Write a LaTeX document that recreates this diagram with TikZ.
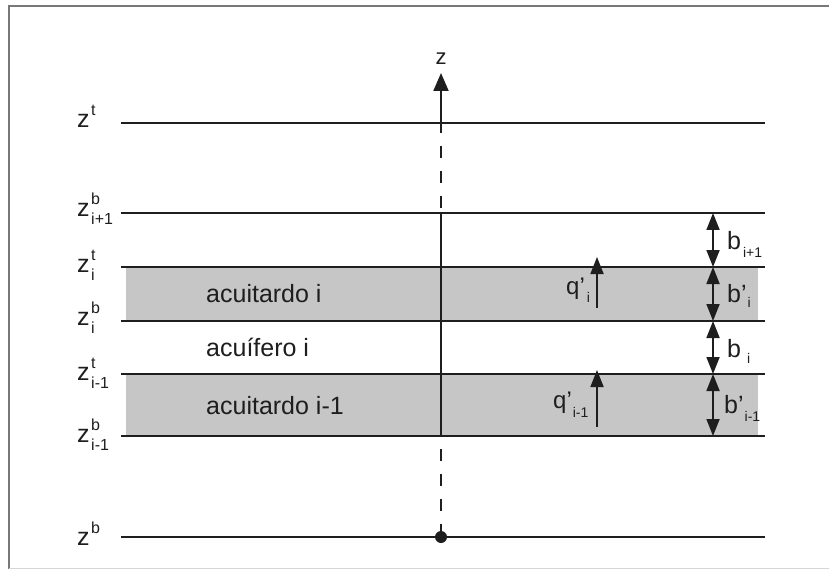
\documentclass[tikz,border=0pt]{standalone}
\usepackage{fontspec}
\setmainfont{Liberation Sans}
\usetikzlibrary{arrows.meta}
\definecolor{ink}{RGB}{30,30,30}
\definecolor{layergray}{RGB}{198,198,198}
\definecolor{framegray}{RGB}{120,120,120}
\newcommand{\subf}{\fontsize{16}{16}\selectfont}
\newcommand{\subs}{\fontsize{14}{14}\selectfont}
\newcommand{\zlab}[2]{z\kern1.5pt\rlap{\raisebox{12pt}{\subf #1}}\raisebox{-8pt}{\subf #2}}
\begin{document}
\begin{tikzpicture}[x=1pt,y=-1pt,
  layerline/.style={line width=2pt, draw=ink},
  axisline/.style={line width=2pt, draw=ink},
  dimarrow/.style={line width=1.8pt, draw=ink, {Triangle[length=17pt,width=13pt]}-{Triangle[length=17pt,width=13pt]}},
  flowarrow/.style={line width=1.8pt, draw=ink, -{Triangle[length=17pt,width=13pt]}},
  zlabel/.style={inner sep=0pt, anchor=base west, text=ink, font=\fontsize{25}{25}\selectfont},
  laylabel/.style={inner sep=0pt, anchor=base west, text=ink, font=\fontsize{25}{25}\selectfont},
  rlabel/.style={inner sep=0pt, anchor=base west, text=ink, font=\fontsize{25}{25}\selectfont},
  qlabel/.style={inner sep=0pt, anchor=base west, text=ink, font=\fontsize{24}{24}\selectfont}]
\useasboundingbox (0,0) rectangle (829,569);
% frame
\draw[framegray, line width=1.5pt] (9,569) -- (9,6) -- (829,6);
\draw[framegray!30, line width=1pt] (9,568) -- (829,568);
% shaded layers
\fill[layergray] (126,267) rectangle (758,321);
\fill[layergray] (126,374) rectangle (758,436);
% horizontal lines
\foreach \n/\y in {zt/123, zbip/213, zti/267, zbi/321, ztim/374, zbim/436, zb/537}{
  \coordinate (\n-l) at (121,\y);
  \coordinate (\n-r) at (765,\y);
  \draw[layerline] (\n-l) -- (\n-r);
}
% vertical axis
\coordinate (axtip) at (441,73);
\coordinate (axa) at (441,133);
\coordinate (axb) at (441,213);
\coordinate (axc) at (441,436);
\node[circle, fill=ink, inner sep=0pt, minimum size=12pt] (dot) at (441,537) {};
\draw[axisline, -{Triangle[length=18pt,width=15pt]}] (axa) -- (axtip);
\draw[axisline, dash pattern=on 12pt off 13pt, dash phase=12pt] (axa) -- (axb);
\draw[axisline] (axb) -- (axc);
\draw[axisline, dash pattern=on 12pt off 13pt, dash phase=12pt] (axc) -- (dot.center);
\node[inner sep=0pt, anchor=base, text=ink, font=\fontsize{22}{22}\selectfont] (zax) at (441,65) {z};
% left labels
\node[zlabel] (lzt) at (77,128) {\zlab{t}{}};
\node[zlabel] (lzbip) at (77,217) {\zlab{b}{i+1}};
\node[zlabel] (lzti) at (77,272) {\zlab{t}{i}};
\node[zlabel] (lzbi) at (77,325) {\zlab{b}{i}};
\node[zlabel] (lztim) at (77,380) {\zlab{t}{i-1}};
\node[zlabel] (lzbim) at (77,442) {\zlab{b}{i-1}};
\node[zlabel] (lzb) at (77,545) {\zlab{b}{}};
% layer names
\node[laylabel] (ac1) at (206,302) {acuitardo i};
\node[laylabel] (aq) at (206,356) {acuífero i};
\node[laylabel] (ac2) at (206,414) {acuitardo i-1};
% thickness arrows
\draw[dimarrow] (zbip-r -| 713,0) -- (zti-r -| 713,0);
\draw[dimarrow] (zti-r -| 713,0) -- (zbi-r -| 713,0);
\draw[dimarrow] (zbi-r -| 713,0) -- (ztim-r -| 713,0);
\draw[dimarrow] (ztim-r -| 713,0) -- (zbim-r -| 713,0);
\node[rlabel] (lb1) at (727,249) {b\kern2pt\raisebox{-9pt}{\subs i+1}};
\node[rlabel] (lb2) at (727,302) {b'\kern1pt\raisebox{-5pt}{\subs i}};
\node[rlabel] (lb3) at (727,357) {b\kern6pt\raisebox{-6pt}{\subs i}};
\node[rlabel] (lb4) at (724,413) {b'\kern1pt\raisebox{-8pt}{\subs i-1}};
% leakage arrows
\coordinate (q1s) at (597,308);
\coordinate (q1e) at (597,257);
\coordinate (q2s) at (597,427);
\coordinate (q2e) at (597,370);
\draw[flowarrow] (q1s) -- (q1e);
\draw[flowarrow] (q2s) -- (q2e);
\node[qlabel] (lq1) at (566,294) {q'\kern2pt\raisebox{-8pt}{\subs i}};
\node[qlabel] (lq2) at (553,408) {q'\kern1pt\raisebox{-9pt}{\subs i-1}};
\end{tikzpicture}
\end{document}
